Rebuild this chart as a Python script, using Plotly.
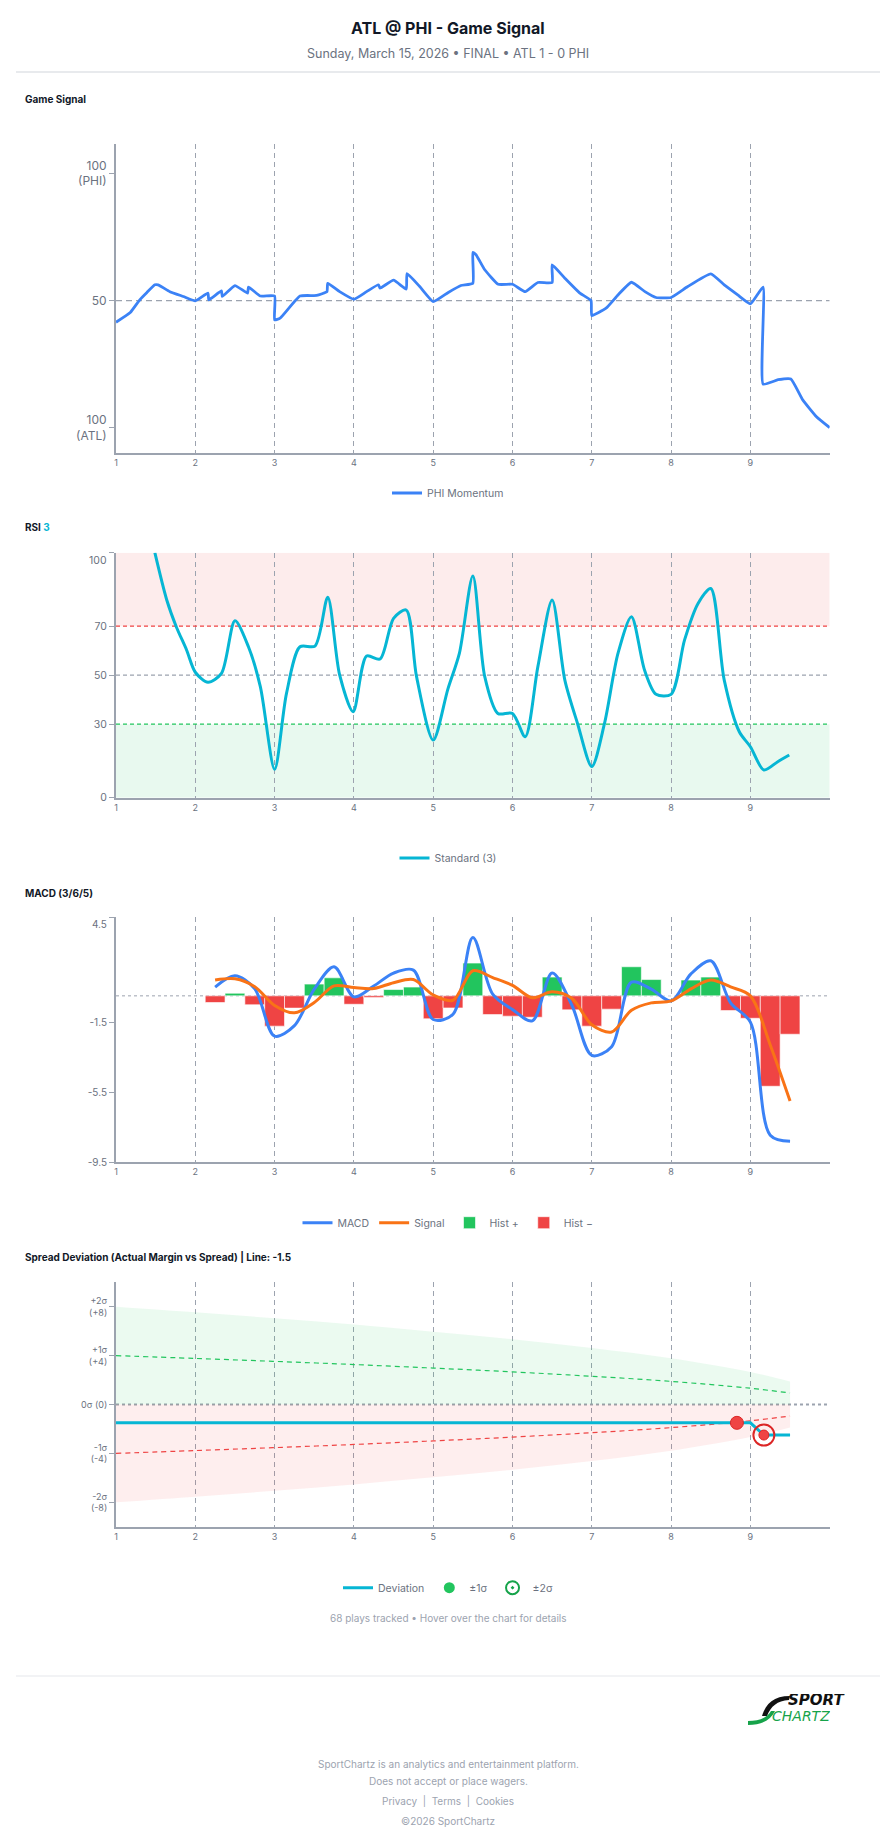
import plotly.graph_objects as go

W, H = 896, 1845


def px(x):
    return x / W


def py(y):
    return 1 - y / H


# ---------------- data ----------------
# Game Signal (PHI momentum, 0 = ATL 100, 100 = PHI 100)
GS_X = [1.0, 1.18, 1.30, 1.39, 1.49, 1.53, 1.68, 1.85, 2.0, 2.16, 2.17, 2.33, 2.34, 2.5, 2.66, 2.67, 2.82, 3.0, 3.0,
        3.07, 3.32, 3.53, 3.66, 3.67, 3.82, 4.0, 4.16, 4.31, 4.33, 4.5, 4.66, 4.67, 4.83, 5.0, 5.19, 5.35, 5.5, 5.5,
        5.54, 5.65, 5.82, 6.0, 6.16, 6.32, 6.5, 6.5, 6.66, 6.85, 6.99, 7.0, 7.18, 7.33, 7.5, 7.67, 7.81, 8.0, 8.21,
        8.5, 8.67, 8.84, 9.0, 9.16, 9.16, 9.35, 9.51, 9.66, 9.83, 10.0]
GS_Y = [41.5, 45.3, 50.3, 53.2, 56.2, 56.2, 53.5, 51.6, 49.9, 52.9, 50.3, 53.8, 51.6, 55.9, 52.9, 55.3, 51.8, 51.8,
        42.4, 43.1, 51.8, 52.0, 53.5, 56.8, 53.5, 50.5, 53.5, 56.2, 54.9, 58.0, 54.5, 60.6, 55.5, 49.6, 53.2, 55.9,
        56.8, 68.9, 68.0, 62.1, 56.4, 56.4, 53.5, 57.1, 57.1, 64.0, 58.8, 52.9, 50.0, 44.1, 47.0, 52.2, 57.2, 53.5,
        51.2, 51.2, 55.5, 60.5, 56.2, 52.2, 48.7, 55.3, 17.2, 18.9, 19.2, 11.0, 4.5, 0.1]

# RSI (3)
RSI_X = [1.49, 1.64, 1.76, 1.89, 2.0, 2.16, 2.33, 2.5, 2.67, 2.82, 3.0, 3.15, 3.32, 3.51, 3.67, 3.82, 3.99, 4.16,
         4.33, 4.5, 4.66, 4.79, 5.0, 5.185, 5.33, 5.5, 5.65, 5.815, 6.0, 6.16, 6.32, 6.5, 6.66, 6.82, 7.0, 7.16,
         7.33, 7.5, 7.665, 7.81, 8.0, 8.17, 8.34, 8.5, 8.67, 8.86, 9.0, 9.17, 9.345, 9.49]
RSI_Y = [100, 80.7, 69.8, 60.3, 51.2, 47.1, 50.7, 72.2, 61.6, 45.3, 11.6, 42.6, 61.6, 61.9, 81.8, 50.1, 35.1, 57.8,
         56.6, 73.2, 76.6, 49.4, 23.5, 44.3, 58.9, 90.5, 49.4, 34.4, 34.4, 24.9, 53.5, 80.7, 48.0, 30.3, 12.7, 30.3,
         58.9, 73.9, 52.1, 42.2, 42.2, 64.4, 79.3, 85.4, 48.0, 26.9, 20.8, 11.3, 14.7, 17.4]

# MACD (3/6/5)
MACD_X = [2.25, 2.5, 2.75, 3.0, 3.25, 3.5, 3.75, 4.0, 4.25, 4.5, 4.75, 5.0, 5.25, 5.5, 5.75, 6.0, 6.25, 6.5, 6.75,
          7.0, 7.25, 7.5, 7.75, 8.0, 8.25, 8.5, 8.75, 9.0, 9.25, 9.5]
MACD = [0.5, 1.14, 0.4, -2.3, -1.7, 0.38, 1.66, -0.06, 0.56, 1.3, 1.47, -1.35, -1.05, 3.33, 0.1, -0.78, -1.43, 1.31,
        -0.55, -3.4, -2.9, 0.78, 0.38, -0.29, 1.25, 2.0, -0.4, -1.5, -7.95, -8.3]
SIGNAL = [0.9, 0.97, 0.52, -0.55, -0.97, -0.38, 0.57, 0.47, 0.42, 0.75, 0.93, 0.05, -0.25, 1.43, 1.04, 0.6, -0.11,
          0.23, -0.15, -1.65, -2.06, -0.82, -0.4, -0.29, 0.4, 0.9, 0.51, 0.0, -2.8, -6.0]
HIST = [-0.38, 0.15, -0.51, -1.73, -0.70, 0.67, 1.03, -0.48, -0.10, 0.36, 0.50, -1.31, -0.69, 1.87, -1.07, -1.16,
        -1.22, 1.07, -0.80, -1.73, -0.76, 1.66, 0.93, 0.0, 0.90, 1.07, -0.84, -1.28, -5.16, -2.19]

# Spread deviation
SIG_X = [1, 2, 3, 4, 5, 6, 7, 8, 9, 9.5]
SIGMA = [4.0, 3.77, 3.53, 3.27, 2.98, 2.67, 2.31, 1.89, 1.33, 0.94]
DEV_X = [1, 8.83, 9.0, 9.17, 9.5]
DEV_Y = [-1.5, -1.5, -1.5, -2.5, -2.5]
ONE_SIG_X, ONE_SIG_Y = [8.83], [-1.5]
TWO_SIG_X, TWO_SIG_Y = [9.17], [-2.5]

X_TICKS = [1, 2, 3, 4, 5, 6, 7, 8, 9]
RSI_TICKS = [0, 30, 50, 70, 100]
MACD_TICKS = [4.5, -1.5, -5.5, -9.5]

# ---------------- colours ----------------
BLUE = "#3b82f6"
CYAN = "#06b6d4"
ORANGE = "#f97316"
GREEN = "#22c55e"
RED = "#ef4444"
GRID = "#9ca3af"
AX = "#9ca3af"
TXT = "#6b7280"
DARK = "#111827"
FONT = "Inter, Roboto, sans-serif"

fig = go.Figure()

# Panel 1
fig.add_trace(go.Scatter(x=GS_X, y=GS_Y, mode="lines", name="PHI Momentum",
                         line=dict(color=BLUE, width=2.8, shape="spline", smoothing=0.4),
                         xaxis="x", yaxis="y", legend="legend"))

# Panel 2
fig.add_trace(go.Scatter(x=RSI_X, y=RSI_Y, mode="lines", name="Standard (3)",
                         line=dict(color=CYAN, width=3, shape="spline", smoothing=0.8),
                         xaxis="x2", yaxis="y2", legend="legend2"))

# Panel 3
hp_x = [x for x, h in zip(MACD_X, HIST) if h >= 0]
hp_y = [h for h in HIST if h >= 0]
hn_x = [x for x, h in zip(MACD_X, HIST) if h < 0]
hn_y = [h for h in HIST if h < 0]
fig.add_trace(go.Scatter(x=MACD_X, y=MACD, mode="lines", name="MACD", legendrank=1,
                         line=dict(color=BLUE, width=3, shape="spline", smoothing=0.9),
                         xaxis="x3", yaxis="y3", legend="legend3"))
fig.add_trace(go.Scatter(x=MACD_X, y=SIGNAL, mode="lines", name="Signal", legendrank=2,
                         line=dict(color=ORANGE, width=3, shape="spline", smoothing=0.9),
                         xaxis="x3", yaxis="y3", legend="legend3"))
fig.add_trace(go.Bar(x=hp_x, y=hp_y, name="Hist +", width=0.25, legendrank=3,
                     marker=dict(color=GREEN, line=dict(color="white", width=0.6)),
                     xaxis="x3", yaxis="y3", legend="legend3"))
fig.add_trace(go.Bar(x=hn_x, y=hn_y, name="Hist \u2212", width=0.25, legendrank=4,
                     marker=dict(color=RED, line=dict(color="white", width=0.6)),
                     xaxis="x3", yaxis="y3", legend="legend3"))

# Panel 4
up2 = [2 * s for s in SIGMA]
lo2 = [-2 * s for s in SIGMA]
up1 = [s for s in SIGMA]
lo1 = [-s for s in SIGMA]
fig.add_trace(go.Scatter(x=SIG_X, y=up2, mode="lines", fill="tozeroy", fillcolor="rgba(34,197,94,0.09)",
                         line=dict(width=0, shape="spline"), showlegend=False, hoverinfo="skip",
                         xaxis="x4", yaxis="y4"))
fig.add_trace(go.Scatter(x=SIG_X, y=lo2, mode="lines", fill="tozeroy", fillcolor="rgba(239,68,68,0.09)",
                         line=dict(width=0, shape="spline"), showlegend=False, hoverinfo="skip",
                         xaxis="x4", yaxis="y4"))
fig.add_trace(go.Scatter(x=SIG_X, y=up1, mode="lines", showlegend=False, hoverinfo="skip",
                         line=dict(color=GREEN, width=1.2, dash="5px,4px", shape="spline"),
                         xaxis="x4", yaxis="y4"))
fig.add_trace(go.Scatter(x=SIG_X, y=lo1, mode="lines", showlegend=False, hoverinfo="skip",
                         line=dict(color=RED, width=1.2, dash="5px,4px", shape="spline"),
                         xaxis="x4", yaxis="y4"))
fig.add_trace(go.Scatter(x=DEV_X, y=DEV_Y, mode="lines", name="Deviation",
                         line=dict(color=CYAN, width=3), xaxis="x4", yaxis="y4", legend="legend4"))
fig.add_trace(go.Scatter(x=ONE_SIG_X, y=ONE_SIG_Y, mode="markers", showlegend=False,
                         marker=dict(color=RED, size=13, line=dict(color="#dc2626", width=1)),
                         xaxis="x4", yaxis="y4"))
fig.add_trace(go.Scatter(x=TWO_SIG_X, y=TWO_SIG_Y, mode="markers", showlegend=False,
                         marker=dict(symbol="circle-open", color="#dc2626", size=21, line=dict(width=2)),
                         xaxis="x4", yaxis="y4"))
fig.add_trace(go.Scatter(x=TWO_SIG_X, y=TWO_SIG_Y, mode="markers", showlegend=False,
                         marker=dict(color=RED, size=10, line=dict(color="#dc2626", width=1)),
                         xaxis="x4", yaxis="y4"))
fig.add_trace(go.Scatter(x=[None], y=[None], mode="markers", name="\u00b11\u03c3",
                         marker=dict(color=GREEN, size=11), xaxis="x4", yaxis="y4", legend="legend4"))
fig.add_trace(go.Scatter(x=[None], y=[None], mode="markers", name="\u00b12\u03c3",
                         marker=dict(symbol="circle-open-dot", color="#16a34a", size=13, line=dict(width=2)),
                         xaxis="x4", yaxis="y4", legend="legend4"))

# ---------------- axes ----------------
XDOM = [px(116), px(829.7)]


def xaxis(anchor):
    return dict(domain=XDOM, range=[1, 10], tickvals=X_TICKS, anchor=anchor, showgrid=True,
                gridcolor=GRID, griddash="5px,4px", gridwidth=1, showline=True, linecolor=AX, linewidth=2,
                zeroline=False, ticks="", tickfont=dict(size=9, color=TXT), fixedrange=True, automargin=False)


def yaxis(anchor, dom, rng, vals, text, size):
    return dict(domain=dom, range=rng, tickvals=vals, ticktext=text, anchor=anchor, showgrid=False,
                showline=True, linecolor=AX, linewidth=2, zeroline=False, ticks="outside", ticklen=5,
                tickcolor=AX, tickwidth=1, tickfont=dict(size=size, color=TXT), fixedrange=True,
                automargin=False)


layout = dict(
    width=W, height=H, margin=dict(l=0, r=0, t=0, b=0, autoexpand=False), paper_bgcolor="white",
    plot_bgcolor="white", font=dict(family=FONT, color=TXT), barmode="overlay", hovermode="closest",
    xaxis=xaxis("y"), xaxis2=xaxis("y2"), xaxis3=xaxis("y3"), xaxis4=xaxis("y4"),
    yaxis=yaxis("x", [py(453.3), py(144)], [-10, 111.5], [0, 50, 100],
                ["100<br>(ATL)", "50", "100<br>(PHI)"], 12),
    yaxis2=yaxis("x2", [py(797.7), py(552.7)], [0, 100], RSI_TICKS,
                 ["0", "30", "50", "70", ""], 10.5),
    yaxis3=yaxis("x3", [py(1162.3), py(917)], [-9.5, 4.5], MACD_TICKS,
                 ["", "-1.5", "-5.5", "-9.5"], 10),
    yaxis4=yaxis("x4", [py(1526.7), py(1282.3)], [-10, 10], [8, 4, 0, -4, -8],
                 ["+2\u03c3<br>(+8)", "+1\u03c3<br>(+4)", "0\u03c3 (0)", "-1\u03c3<br>(-4)", "-2\u03c3<br>(-8)"], 9),
)

for i, yy in zip(["", "2", "3", "4"], [493, 858, 1222.7, 1587.7]):
    layout["legend" + i] = dict(orientation="h", x=px(448), xanchor="center", y=py(yy), yanchor="middle",
                                font=dict(size=10.5, color=TXT), bgcolor="rgba(0,0,0,0)", itemwidth=30)
fig.update_layout(**layout)

# ---------------- shapes ----------------
shapes = [
    dict(type="line", xref="paper", yref="paper", x0=px(16), x1=px(880), y0=py(72), y1=py(72),
         line=dict(color="#d1d5db", width=1)),
    dict(type="line", xref="paper", yref="paper", x0=px(16), x1=px(880), y0=py(1676), y1=py(1676),
         line=dict(color="#e5e7eb", width=1)),
    # game signal midline
    dict(type="line", xref="x", yref="y", x0=1, x1=10, y0=50, y1=50, layer="between",
         line=dict(color=GRID, width=1.2, dash="6px,4px")),
    # RSI zones
    dict(type="rect", xref="x2", yref="y2", x0=1, x1=10, y0=70, y1=100, layer="below",
         fillcolor="rgba(239,68,68,0.10)", line=dict(width=0)),
    dict(type="rect", xref="x2", yref="y2", x0=1, x1=10, y0=0, y1=30, layer="below",
         fillcolor="rgba(34,197,94,0.10)", line=dict(width=0)),
    dict(type="line", xref="x2", yref="y2", x0=1, x1=10, y0=70, y1=70, layer="between",
         line=dict(color=RED, width=1.2, dash="4px,3px")),
    dict(type="line", xref="x2", yref="y2", x0=1, x1=10, y0=50, y1=50, layer="between",
         line=dict(color=GRID, width=1.2, dash="4px,3px")),
    dict(type="line", xref="x2", yref="y2", x0=1, x1=10, y0=30, y1=30, layer="between",
         line=dict(color=GREEN, width=1.2, dash="4px,3px")),
    # MACD zero
    dict(type="line", xref="x3", yref="y3", x0=1, x1=10, y0=0, y1=0, layer="between",
         line=dict(color=GRID, width=1, dash="3px,3px")),
    # deviation zero
    dict(type="line", xref="x4", yref="y4", x0=1, x1=10, y0=0, y1=0, layer="between",
         line=dict(color=GRID, width=2, dash="3px,3px")),
    # logo swooshes
    dict(type="path", xref="paper", yref="paper", fillcolor="#111111", line=dict(width=0),
         path=f"M {px(790)},{py(1696)} C {px(774)},{py(1696)} {px(766)},{py(1703)} {px(762)},{py(1716)} "
              f"L {px(767)},{py(1716)} C {px(771)},{py(1706)} {px(777)},{py(1701)} {px(789)},{py(1700)} Z"),
    dict(type="path", xref="paper", yref="paper", fillcolor="#16a34a", line=dict(width=0),
         path=f"M {px(748)},{py(1725)} C {px(762)},{py(1725)} {px(771)},{py(1720)} {px(775)},{py(1711)} "
              f"L {px(771)},{py(1711)} C {px(767)},{py(1718)} {px(759)},{py(1721)} {px(748)},{py(1721)} Z"),
]
fig.update_layout(shapes=shapes)


# ---------------- annotations ----------------
def ann(text, x, y, size, color=TXT, xanchor="center", bold=False, family=FONT, height=None):
    d = dict(text=(f"<b>{text}</b>" if bold else text), x=px(x), y=py(y), xref="paper", yref="paper",
             xanchor=xanchor, yanchor="middle", showarrow=False, borderpad=0,
             font=dict(size=size, color=color, family=family))
    if height:
        d["height"] = height
    return d


anns = [
    ann("ATL @ PHI - Game Signal", 448, 28, 16, DARK, bold=True),
    ann("Sunday, March 15, 2026 \u2022 FINAL \u2022 ATL 1 - 0 PHI", 448, 53, 12.5, TXT),
    ann("Game Signal", 24, 99, 10, DARK, "left", True),
    ann(f"RSI <span style='color:{CYAN}'>3</span>", 24, 527, 10, DARK, "left", True),
    ann("MACD (3/6/5)", 24, 893, 10, DARK, "left", True),
    ann("Spread Deviation (Actual Margin vs Spread) | Line: -1.5", 24, 1257, 10, DARK, "left", True),
    ann(str(RSI_TICKS[-1]), 108, 560, 10.5, TXT, "right"),
    ann(str(MACD_TICKS[0]), 108, 924, 10, TXT, "right"),
    ann("68 plays tracked \u2022 Hover over the chart for details", 448, 1618, 10, "#9ca3af"),
    ann("SportChartz is an analytics and entertainment platform.", 448, 1764, 10, "#9ca3af"),
    ann("Does not accept or place wagers.", 448, 1781, 10, "#9ca3af"),
    ann("Privacy  |  Terms  |  Cookies", 448, 1801, 10, "#9ca3af"),
    ann("\u00a92026 SportChartz", 448, 1821, 10, "#9ca3af"),
    ann("<i>SPORT</i>", 787, 1700, 15, "#111111", "left", True, "DejaVu Sans, sans-serif", height=12),
    ann("<i>CHARTZ</i>", 771, 1715.5, 14, "#16a34a", "left", False, "DejaVu Sans, sans-serif", height=12),
]
fig.update_layout(annotations=anns)

fig.write_html("out.html", include_plotlyjs=True, config={"displayModeBar": False})
